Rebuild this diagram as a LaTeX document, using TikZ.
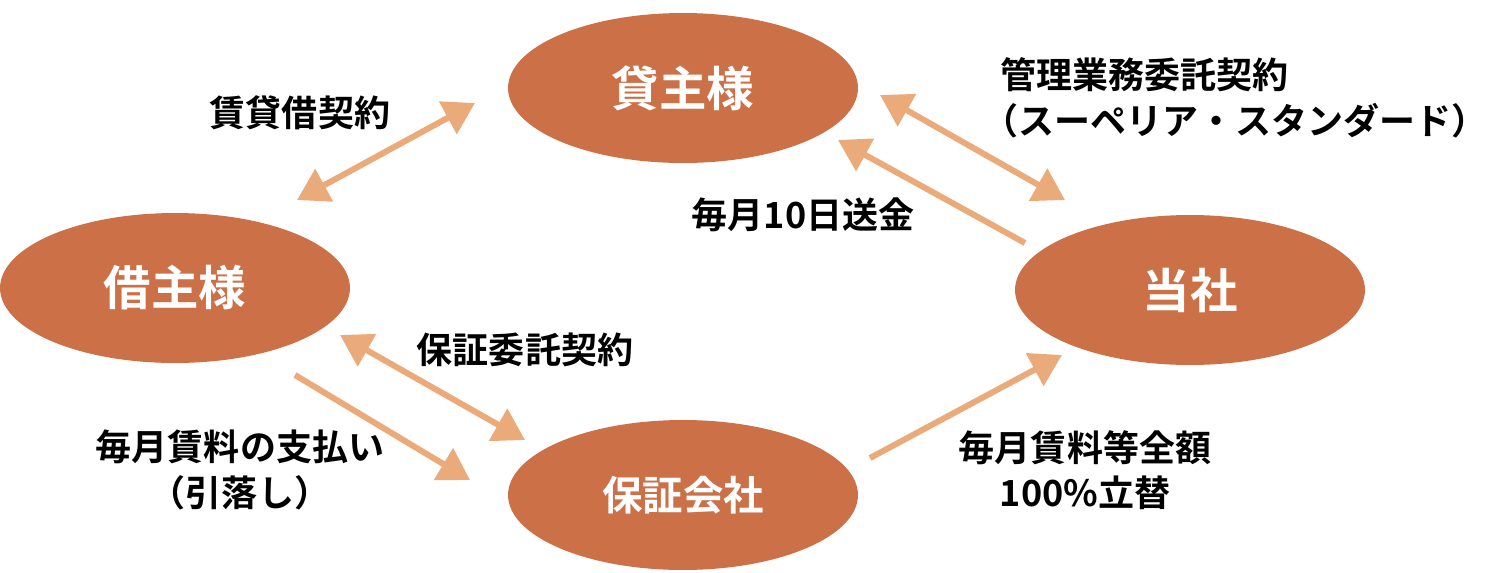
\documentclass[tikz,border=0pt]{standalone}
\usepackage{fontspec}
\setmainfont{Noto Sans CJK JP}[BoldFont={* Bold}]
\usetikzlibrary{arrows.meta,shapes.geometric}
\definecolor{nodebg}{HTML}{CC7048}
\definecolor{arrowcol}{HTML}{EBAA7A}
\tikzset{
  party/.style={ellipse, fill=nodebg, text=white, minimum width=7cm, minimum height=3cm, font=\fontsize{27}{30}\selectfont\bfseries},
  flow/.style={draw=arrowcol, line width=0.12cm, -{Triangle[width=0.72cm,length=0.62cm]}},
  twoway/.style={flow, {Triangle[width=0.72cm,length=0.62cm]}-{Triangle[width=0.72cm,length=0.62cm]}},
  lbl/.style={font=\fontsize{20.5}{26}\selectfont\bfseries, align=center}
}
\begin{document}
\begin{tikzpicture}[x=0.02cm,y=-0.02cm]
    \useasboundingbox (0,0) rectangle (1490,572);

    % Parteien
    \node[party] (lessor) at (683,88) {貸主様};
    \node[party] (tenant) at (175,288) {借主様};
    \node[party] (company) at (1190,290) {当社};
    \node[party, font=\fontsize{23}{26}\selectfont\bfseries] (guarantor) at (683,495) {保証会社};

    % Pfeilenden
    \coordinate (a1) at (297,200); \coordinate (a2) at (475,103);
    \coordinate (b1) at (880,95);  \coordinate (b2) at (1065,200);
    \coordinate (c1) at (1025,243); \coordinate (c2) at (838,140);
    \coordinate (d1) at (340,335); \coordinate (d2) at (525,440);
    \coordinate (e1) at (295,375); \coordinate (e2) at (470,480);
    \coordinate (f1) at (870,458); \coordinate (f2) at (1062,355);

    % Pfeile
    \draw[twoway] (a1) -- (a2);
    \draw[twoway] (b1) -- (b2);
    \draw[flow] (c1) -- (c2);
    \draw[twoway] (d1) -- (d2);
    \draw[flow] (e1) -- (e2);
    \draw[flow] (f1) -- (f2);

    % Beschriftungen
    \node[lbl, align=left] (l2) at (1235,98) {\hspace*{0.35cm}管理業務委託契約\\（スーペリア・スタンダード）};
    \node[lbl] (l1) at (300,113) {賃貸借契約};
    \node[lbl] (l3) at (803,215) {毎月10日送金};
    \node[lbl] (l4) at (525,350) {保証委託契約};
    \node[lbl] (l5) at (240,470) {毎月賃料の支払い\\（引落し）};
    \node[lbl] (l6) at (1085,470) {毎月賃料等全額\\100\%立替};
\end{tikzpicture}
\end{document}
